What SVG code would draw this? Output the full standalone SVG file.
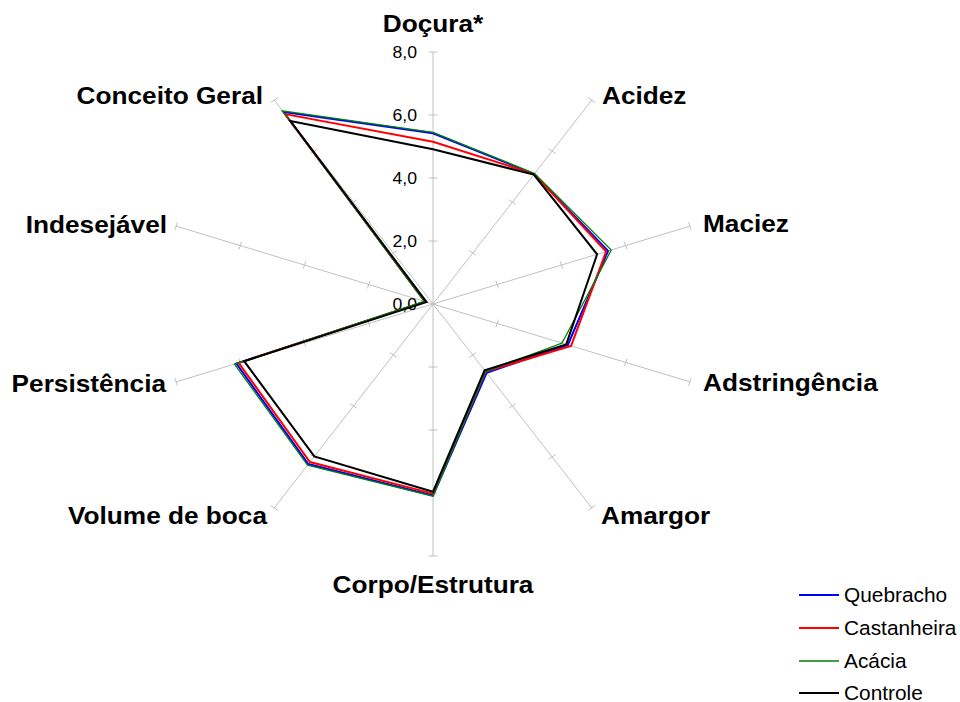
<svg xmlns="http://www.w3.org/2000/svg" xmlns:xlink="http://www.w3.org/1999/xlink" width="960" height="702" viewBox="0 0 960 702">
<style>
.ax line{stroke:#c0c0c0;stroke-width:1;vector-effect:non-scaling-stroke;fill:none}
.ser{fill:none;stroke-linejoin:miter;vector-effect:non-scaling-stroke}
.lbl{font-family:"Liberation Sans",Arial,sans-serif;font-weight:bold;font-size:24.5px;fill:#000}
.tk{font-family:"Liberation Sans",Arial,sans-serif;font-size:16.5px;fill:#000;text-anchor:end}
.lg{font-family:"Liberation Sans",Arial,sans-serif;font-size:19.5px;fill:#000}
</style>
<defs>
<g id="axis" class="ax">
<line x1="0" y1="0" x2="0" y2="-252"/>
<line x1="-4" y1="-63" x2="4" y2="-63"/>
<line x1="-4" y1="-126" x2="4" y2="-126"/>
<line x1="-4" y1="-189" x2="4" y2="-189"/>
<line x1="-4" y1="-252" x2="4" y2="-252"/>
</g>
</defs>
<rect width="960" height="702" fill="#fff"/>
<g id="axes" transform="translate(433,304) scale(1.072,1)">
<use xlink:href="#axis"/>
<use xlink:href="#axis" transform="rotate(36)"/>
<use xlink:href="#axis" transform="rotate(72)"/>
<use xlink:href="#axis" transform="rotate(108)"/>
<use xlink:href="#axis" transform="rotate(144)"/>
<use xlink:href="#axis" transform="rotate(180)"/>
<use xlink:href="#axis" transform="rotate(216)"/>
<use xlink:href="#axis" transform="rotate(252)"/>
<use xlink:href="#axis" transform="rotate(288)"/>
<use xlink:href="#axis" transform="rotate(324)"/>
</g>
<g id="tick-labels">
<text class="tk" transform="translate(417,57.5) scale(1.07,1)">8,0</text>
<text class="tk" transform="translate(417,120.5) scale(1.07,1)">6,0</text>
<text class="tk" transform="translate(417,183.5) scale(1.07,1)">4,0</text>
<text class="tk" transform="translate(417,246.5) scale(1.07,1)">2,0</text>
<text class="tk" transform="translate(417,309.5) scale(1.07,1)">0,0</text>
</g>
<g id="series" transform="translate(433,304) scale(1.072,1)">
<g id="quebracho"><polygon class="ser" stroke="#0000ff" stroke-width="2" points="0,-170.7 94.4,-130.0 163.3,-53.1 125.8,40.9 50.0,68.8 0,191.5 -116.3,160.0 -183.4,59.6 -7.5,-2.4 -139.4,-191.9"/></g>
<g id="castanheira"><polygon class="ser" stroke="#ff0000" stroke-width="2" points="0,-162.2 94.4,-130.0 161.5,-52.5 128.8,41.9 49.1,67.6 0,189.6 -114.8,158.0 -181.3,58.9 -7.5,-2.4 -138.0,-189.9"/></g>
<g id="acacia"><polygon class="ser" stroke="#008000" stroke-width="1.3" points="0,-171.7 94.8,-130.5 166.3,-54.0 120.4,39.1 49.1,67.6 0,192.2 -117.0,161.1 -185.2,60.2 -8.1,-2.6 -140.4,-193.2"/></g>
<g id="controle"><polygon class="ser" stroke="#000000" stroke-width="2" points="0,-154.7 94.0,-129.4 153.1,-49.7 124.3,40.4 48.1,66.3 0,187.7 -110.7,152.4 -176.1,57.2 -6.0,-1.9 -133.0,-183.0"/></g>
</g>
<g id="axis-labels">
<g id="l-docura"><text class="lbl" text-anchor="middle" transform="translate(433,32) scale(1.07,1)">Doçura*</text></g>
<g id="l-acidez"><text class="lbl" transform="translate(602,104) scale(1.07,1)">Acidez</text></g>
<g id="l-maciez"><text class="lbl" transform="translate(703,232) scale(1.07,1)">Maciez</text></g>
<g id="l-adstringencia"><text class="lbl" transform="translate(703,391) scale(1.07,1)">Adstringência</text></g>
<g id="l-amargor"><text class="lbl" transform="translate(601,524) scale(1.07,1)">Amargor</text></g>
<g id="l-corpo"><text class="lbl" text-anchor="middle" transform="translate(433,593) scale(1.07,1)">Corpo/Estrutura</text></g>
<g id="l-volume"><text class="lbl" text-anchor="end" transform="translate(267,524) scale(1.07,1)">Volume de boca</text></g>
<g id="l-persistencia"><text class="lbl" text-anchor="end" transform="translate(166,392) scale(1.07,1)">Persistência</text></g>
<g id="l-indesejavel"><text class="lbl" text-anchor="end" transform="translate(167,233) scale(1.07,1)">Indesejável</text></g>
<g id="l-conceito"><text class="lbl" text-anchor="end" transform="translate(263,104) scale(1.07,1)">Conceito Geral</text></g>
</g>
<g id="legend">
<line x1="799" y1="595" x2="839" y2="595" stroke="#0000ff" stroke-width="2"/>
<text class="lg" transform="translate(844,601.5) scale(1.07,1)">Quebracho</text>
<line x1="799" y1="628" x2="839" y2="628" stroke="#ff0000" stroke-width="2"/>
<text class="lg" transform="translate(844,634.5) scale(1.07,1)">Castanheira</text>
<line x1="799" y1="661" x2="839" y2="661" stroke="#008000" stroke-width="1.3"/>
<text class="lg" transform="translate(844,667.5) scale(1.07,1)">Acácia</text>
<line x1="799" y1="693" x2="839" y2="693" stroke="#000000" stroke-width="2"/>
<text class="lg" transform="translate(844,699.5) scale(1.07,1)">Controle</text>
</g>
</svg>
